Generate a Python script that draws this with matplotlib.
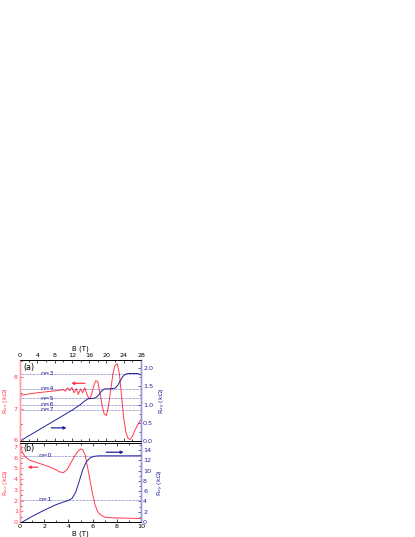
import matplotlib.pyplot as plt
from matplotlib.ticker import MultipleLocator

# ── Data ──────────────────────────────────────────────────────────────────────
# panel (a): high field, 0-28 T
b_a_xx = [0, 2, 4, 6, 8, 10, 10.5, 11, 11.5, 12, 12.5, 13, 13.5, 14, 14.5, 15, 15.5,
          16, 16.5, 17, 17.5, 18, 18.5, 19, 19.5, 20, 20.5, 21, 21.5, 22, 22.5, 23,
          23.5, 24, 24.5, 25, 25.5, 26, 26.5, 27, 27.5, 28]
rxx_a = [7.42, 7.46, 7.5, 7.53, 7.56, 7.6, 7.55, 7.66, 7.57, 7.67, 7.5, 7.63, 7.45,
         7.62, 7.5, 7.66, 7.45, 7.3, 7.42, 7.68, 7.88, 7.86, 7.5, 7.1, 6.82, 6.78,
         7.1, 7.6, 8.1, 8.38, 8.42, 8.1, 7.4, 6.7, 6.25, 6.05, 6.02, 6.12, 6.28, 6.42,
         6.55, 6.65]

b_a_xy = [0, 2, 4, 6, 8, 10, 12, 13, 14, 15, 15.8, 17, 17.6, 18.2, 18.8, 19.4, 20,
          21, 22, 22.6, 23.2, 23.8, 24.4, 25, 26, 27, 27.5, 28]
rxy_a = [0, 0.14, 0.28, 0.42, 0.56, 0.7, 0.84, 0.92, 1.0, 1.1, 1.16, 1.17, 1.19,
         1.26, 1.36, 1.42, 1.43, 1.43, 1.45, 1.52, 1.65, 1.77, 1.83, 1.85, 1.85,
         1.85, 1.84, 1.81]

levels_a = [1.84, 1.43, 1.17, 0.99, 0.86]
labels_a = ['n=3', 'n=4', 'n=5', 'n=6', 'n=7']

# panel (b): low field, 0-10 T
b_b_xx = [0.05, 0.2, 0.4, 0.8, 1.2, 1.6, 2.0, 2.5, 3.0, 3.3, 3.6, 3.9, 4.2, 4.5, 4.8,
          5.0, 5.2, 5.4, 5.6, 5.8, 6.0, 6.2, 6.4, 6.6, 7.0, 7.5, 8, 9, 10]
rxx_b = [7.1, 6.5, 6.1, 5.75, 5.6, 5.45, 5.3, 5.1, 4.85, 4.65, 4.6, 4.9, 5.5, 6.1,
         6.6, 6.8, 6.7, 6.2, 5.0, 3.8, 2.6, 1.6, 1.0, 0.7, 0.45, 0.4, 0.38, 0.35, 0.32]

b_b_xy = [0.2, 1, 2, 3, 3.6, 4.0, 4.3, 4.6, 4.9, 5.2, 5.5, 5.8, 6.1, 6.5, 7, 8, 9, 10]
rxy_b = [0, 1.1, 2.3, 3.4, 3.9, 4.2, 4.6, 5.8, 8.0, 10.3, 11.8, 12.5, 12.8, 12.9,
         12.9, 12.9, 12.9, 12.9]

levels_b = [12.9, 4.3]
labels_b = ['n=0', 'n=1']

# ── Style ─────────────────────────────────────────────────────────────────────
RED = '#ff3b4a'
BLUE = '#22229a'
RED_SP = '#ff9aa2'
BLUE_SP = '#9a9ad0'
FS = 4.6

plt.rcParams['font.family'] = 'DejaVu Sans'
fig = plt.figure(figsize=(4.15, 5.37), dpi=100)

W, H = 415, 537
def rect(l, t, r, b):
    return [l / W, 1 - b / H, (r - l) / W, (b - t) / H]


def style(ax, axr):
    ax.tick_params(axis='both', which='both', direction='in', labelsize=FS,
                   length=2, width=0.5, pad=1.5)
    ax.tick_params(axis='both', which='minor', length=1.2)
    ax.tick_params(axis='y', colors=RED, labelcolor=RED)
    axr.tick_params(axis='y', which='both', direction='in', labelsize=FS,
                    length=2, width=0.5, pad=1.5, colors=BLUE, labelcolor=BLUE)
    axr.tick_params(axis='y', which='minor', length=1.2)
    for a in (ax, axr):
        a.spines['left'].set_color(RED_SP)
        a.spines['right'].set_color(BLUE_SP)
        a.spines['left'].set_linewidth(1.0)
        a.spines['right'].set_linewidth(1.0)
        a.spines['top'].set_linewidth(0.6)
        a.spines['bottom'].set_linewidth(0.6)


# ── Panel (a) ─────────────────────────────────────────────────────────────────
ax1 = fig.add_axes(rect(20, 360, 141, 441))
ax1r = ax1.twinx()
ax1.plot(b_a_xx, rxx_a, color=RED, lw=0.7)
ax1r.plot(b_a_xy, rxy_a, color=BLUE, lw=0.7)
for lv, lb in zip(levels_a, labels_a):
    ax1r.axhline(lv, color=BLUE, lw=0.5, ls=(0, (1, 1)), alpha=0.8)
    ax1r.text(4.7, lv, lb, color=BLUE, fontsize=FS, va='center', ha='left')
ax1.set_xlim(0, 28)
ax1.set_ylim(5.97, 8.54)
ax1r.set_ylim(0, 2.22)
ax1.xaxis.set_major_locator(MultipleLocator(4))
ax1.xaxis.set_minor_locator(MultipleLocator(2))
ax1.yaxis.set_major_locator(MultipleLocator(1))
ax1.yaxis.set_minor_locator(MultipleLocator(0.5))
ax1r.yaxis.set_major_locator(MultipleLocator(0.5))
ax1r.yaxis.set_minor_locator(MultipleLocator(0.25))
ax1.xaxis.tick_top()
ax1.xaxis.set_label_position('top')
ax1.tick_params(axis='x', which='both', top=True, bottom=True, labeltop=True,
                labelbottom=False)
ax1.set_xlabel('B (T)', fontsize=FS + 0.4, labelpad=2)
ax1.set_ylabel(r'R$_{xx}$ (k$\Omega$)', color=RED, fontsize=FS, labelpad=3)
ax1r.set_ylabel(r'R$_{xy}$ (k$\Omega$)', color=BLUE, fontsize=FS, labelpad=3)
style(ax1, ax1r)
ax1.text(0.8, 8.3, '(a)', fontsize=FS + 1.2, va='center')
ax1.annotate('', xy=(11.2, 7.8), xytext=(15.7, 7.8),
             arrowprops=dict(arrowstyle='-|>', color=RED, lw=0.9,
                             mutation_scale=4))
ax1r.annotate('', xy=(11.4, 0.36), xytext=(6.6, 0.36),
              arrowprops=dict(arrowstyle='-|>', color=BLUE, lw=0.9,
                              mutation_scale=4))

# ── Panel (b) ─────────────────────────────────────────────────────────────────
ax2 = fig.add_axes(rect(20, 443, 141, 522))
ax2r = ax2.twinx()
ax2.plot(b_b_xx, rxx_b, color=RED, lw=0.7)
ax2r.plot(b_b_xy, rxy_b, color=BLUE, lw=0.7)
for lv, lb in zip(levels_b, labels_b):
    ax2r.axhline(lv, color=BLUE, lw=0.5, ls=(0, (1, 1)), alpha=0.8)
    ax2r.text(1.55, lv, lb, color=BLUE, fontsize=FS, va='center', ha='left')
ax2.set_xlim(0, 10)
ax2.set_ylim(0, 7.35)
ax2r.set_ylim(0, 15.4)
ax2.xaxis.set_major_locator(MultipleLocator(2))
ax2.xaxis.set_minor_locator(MultipleLocator(1))
ax2.yaxis.set_major_locator(MultipleLocator(1))
ax2.yaxis.set_minor_locator(MultipleLocator(0.5))
ax2r.yaxis.set_major_locator(MultipleLocator(2))
ax2r.yaxis.set_minor_locator(MultipleLocator(1))
ax2.tick_params(axis='x', which='both', top=True, bottom=True)
ax2.set_xlabel('B (T)', fontsize=FS + 0.4, labelpad=1)
ax2.set_ylabel(r'R$_{xx}$ (k$\Omega$)', color=RED, fontsize=FS, labelpad=3)
ax2r.set_ylabel(r'R$_{xy}$ (k$\Omega$)', color=BLUE, fontsize=FS, labelpad=3)
style(ax2, ax2r)
ax2.text(0.3, 6.85, '(b)', fontsize=FS + 1.2, va='center')
ax2.annotate('', xy=(0.4, 5.1), xytext=(1.7, 5.1),
             arrowprops=dict(arrowstyle='-|>', color=RED, lw=0.9,
                             mutation_scale=4))
ax2r.annotate('', xy=(8.8, 13.6), xytext=(6.9, 13.6),
              arrowprops=dict(arrowstyle='-|>', color=BLUE, lw=0.9,
                              mutation_scale=4))

fig.savefig('out.png', dpi=100)
